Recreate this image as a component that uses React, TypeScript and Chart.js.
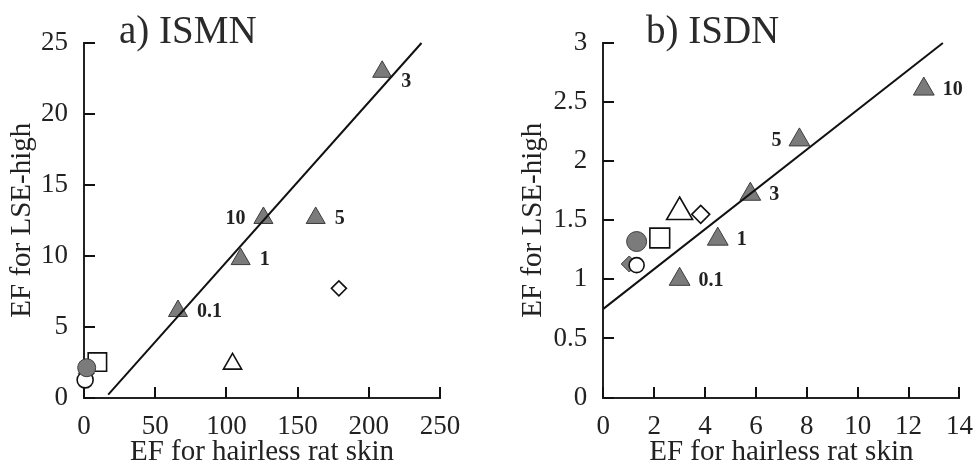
import React, { useEffect, useRef } from 'react';
import { Chart, registerables } from 'chart.js';

Chart.register(...registerables);

// ---------- data ----------
const concentrationLabels = ['0.1', '1', '3', '5', '10'];

// panel a) ISMN
const ismnTriangleX = [66, 110, 209.4, 162.7, 126];
const ismnTriangleY = [6.1, 9.76, 22.97, 12.66, 12.66];
const ismnLabelSide = ['right', 'right', 'lowerRight', 'right', 'left'];
// symbols: filledCircle, openCircle, filledDiamond, openSquare, openTriangle, openDiamond
const ismnSymbolX = [1.9, 0.8, 1.6, 9.4, 104.3, 179];
const ismnSymbolY = [2.1, 1.24, 1.7, 2.5, 2.37, 7.7];
const ismnFitX = [17, 237];
const ismnFitY = [0.2, 25];
const ismnXTicks = [0, 50, 100, 150, 200, 250];
const ismnYTicks = [0, 5, 10, 15, 20, 25];

// panel b) ISDN
const isdnTriangleX = [3.0, 4.5, 5.78, 7.71, 12.6];
const isdnTriangleY = [1.0, 1.34, 1.72, 2.18, 2.61];
const isdnLabelSide = ['right', 'right', 'right', 'left', 'right'];
const isdnSymbolX = [1.31, 1.31, 1.02, 2.22, 3.0, 3.83];
const isdnSymbolY = [1.32, 1.12, 1.13, 1.35, 1.57, 1.55];
const isdnFitX = [0, 13.35];
const isdnFitY = [0.75, 3.0];
const isdnXTicks = [0, 2, 4, 6, 8, 10, 12, 14];
const isdnYTicks = [0, 0.5, 1, 1.5, 2, 2.5, 3];

const xTitle = 'EF for hairless rat skin';
const yTitle = 'EF for LSE-high';

// ---------- style ----------
const FONT = '"Liberation Serif", "Times New Roman", serif';
const INK = '#222';
const GRAY = '#7b7b7b';

const zip = (xs: number[], ys: number[]) => xs.map((x, i) => ({ x, y: ys[i] }));

function drawInwardTicks(chart: any) {
  const ctx = chart.ctx;
  const area = chart.chartArea;
  const xs = chart.scales.x;
  const ys = chart.scales.y;
  ctx.save();
  ctx.fillStyle = '#111';
  for (const t of xs.ticks) {
    const px = xs.getPixelForValue(Number(t.value));
    ctx.fillRect(Math.round(px) - 1, Math.round(area.bottom) - 11, 2, 11);
  }
  for (const t of ys.ticks) {
    const py = ys.getPixelForValue(Number(t.value));
    ctx.fillRect(Math.round(area.left), Math.round(py) - 1, 11, 2);
  }
  ctx.restore();
}

const tickPlugin = {
  id: 'inwardTicks',
  afterDraw(chart: any) {
    drawInwardTicks(chart);
  },
};

const annotatePlugin = {
  id: 'annotate',
  afterDraw(chart: any, _args: any, opts: any) {
    const ctx = chart.ctx;
    const area = chart.chartArea;
    ctx.save();
    // concentration labels
    const meta = chart.getDatasetMeta(opts.datasetIndex);
    ctx.fillStyle = INK;
    ctx.font = `bold 20px ${FONT}`;
    ctx.textBaseline = 'middle';
    meta.data.forEach((el: any, i: number) => {
      const side = opts.sides[i];
      let x = el.x;
      let y = el.y + 1;
      if (side === 'left') {
        ctx.textAlign = 'right';
        x -= 18;
      } else {
        ctx.textAlign = 'left';
        x += 19;
        if (side === 'lowerRight') y += 9;
      }
      ctx.fillText(opts.labels[i], x, y);
    });

    // panel title
    ctx.font = `39px ${FONT}`;
    ctx.textAlign = 'left';
    ctx.textBaseline = 'alphabetic';
    ctx.fillStyle = '#2a2a2a';
    ctx.fillText(opts.title, area.left + opts.titleDx, 43);
    ctx.restore();
  },
};

type PanelProps = {
  width: number;
  left: number;
  areaLeft: number;
  areaRight: number;
  yTitlePad: number;
  title: string;
  titleDx: number;
  triX: number[];
  triY: number[];
  sides: string[];
  symX: number[];
  symY: number[];
  fitX: number[];
  fitY: number[];
  xTicks: number[];
  yTicks: number[];
  sizes: number[];
};

function Panel(p: PanelProps) {
  const ref = useRef<HTMLCanvasElement | null>(null);
  useEffect(() => {
    if (!ref.current) return;
    const [rCirc, rOpenCirc, rDiam, rSq, rOpenTri, rOpenDiam, rTri] = p.sizes;
    const filled = { backgroundColor: GRAY, borderColor: '#3c3c3c', borderWidth: 1, clip: false };
    const open = { backgroundColor: '#fff', borderColor: '#111', borderWidth: 1.6, clip: false };
    const sym = (i: number) => [{ x: p.symX[i], y: p.symY[i] }];
    const datasets: any[] = [
      {
        label: 'fit',
        data: zip(p.fitX, p.fitY),
        showLine: true,
        borderColor: '#111',
        borderWidth: 2,
        pointRadius: 0,
        clip: false,
      },
      { label: 'filledCircle', data: sym(0), pointStyle: 'circle', pointRadius: rCirc, ...filled },
      { label: 'openCircle', data: sym(1), pointStyle: 'circle', pointRadius: rOpenCirc, ...open },
      { label: 'filledDiamond', data: sym(2), pointStyle: 'rectRot', pointRadius: rDiam, ...filled },
      { label: 'openSquare', data: sym(3), pointStyle: 'rect', pointRadius: rSq, ...open },
      { label: 'openTriangle', data: sym(4), pointStyle: 'triangle', pointRadius: rOpenTri, ...open },
      { label: 'openDiamond', data: sym(5), pointStyle: 'rectRot', pointRadius: rOpenDiam, ...open },
      {
        label: 'conc',
        data: zip(p.triX, p.triY),
        pointStyle: 'triangle',
        pointRadius: rTri,
        ...filled,
      },
    ];
    const tickFont = { family: FONT, size: 27 };
    const titleFont = { family: FONT, size: 29 };
    const xs = p.xTicks;
    const ys = p.yTicks;
    const chart = new Chart(ref.current, {
      type: 'scatter',
      data: { datasets },
      plugins: [tickPlugin, annotatePlugin],
      options: {
        animation: false,
        responsive: false,
        events: [],
        layout: { padding: { top: 43, right: p.width - p.areaRight, left: 0, bottom: 0 } },
        plugins: {
          legend: { display: false },
          tooltip: { enabled: false },
          annotate: {
            datasetIndex: 7,
            labels: concentrationLabels,
            sides: p.sides,
            title: p.title,
            titleDx: p.titleDx,
          },
        } as any,
        scales: {
          x: {
            type: 'linear',
            min: xs[0],
            max: xs[xs.length - 1],
            afterBuildTicks: (s: any) => {
              s.ticks = xs.map((v) => ({ value: v }));
            },
            ticks: {
              font: tickFont,
              color: INK,
              padding: 13,
              maxRotation: 0,
              autoSkip: false,
              callback: (v: any) => String(v),
            },
            grid: { display: false, drawOnChartArea: false, drawTicks: false, tickLength: 0 },
            border: { display: true, color: INK, width: 2 },
            title: { display: true, text: xTitle, font: titleFont, color: INK, padding: { top: 0, bottom: 0 } },
            afterFit: (s: any) => {
              s.height = 470 - 397.5;
              s.paddingLeft = 0;
              s.paddingRight = 0;
            },
          },
          y: {
            type: 'linear',
            min: ys[0],
            max: ys[ys.length - 1],
            afterBuildTicks: (s: any) => {
              s.ticks = ys.map((v) => ({ value: v }));
            },
            ticks: {
              font: tickFont,
              color: INK,
              padding: 16,
              autoSkip: false,
              callback: (v: any) => String(v),
            },
            grid: { display: false, drawOnChartArea: false, drawTicks: false, tickLength: 0 },
            border: { display: true, color: INK, width: 2 },
            title: { display: true, text: yTitle, font: titleFont, color: INK, padding: { top: p.yTitlePad, bottom: 0 } },
            afterFit: (s: any) => {
              s.width = p.areaLeft;
              s.paddingTop = 0;
              s.paddingBottom = 0;
            },
          },
        },
      } as any,
    });
    return () => chart.destroy();
  }, []);
  return (
    <canvas
      ref={ref}
      width={p.width}
      height={470}
      style={{ position: 'absolute', left: p.left, top: 0, width: p.width, height: 470 }}
    />
  );
}

export default function App() {
  return (
    <div style={{ position: 'fixed', left: 0, top: 0, width: 976, height: 470, background: '#fff', overflow: 'hidden' }}>
      <Panel
        width={490}
        left={0}
        areaLeft={84}
        areaRight={440}
        yTitlePad={4.5}
        title="a) ISMN"
        titleDx={35}
        triX={ismnTriangleX}
        triY={ismnTriangleY}
        sides={ismnLabelSide}
        symX={ismnSymbolX}
        symY={ismnSymbolY}
        fitX={ismnFitX}
        fitY={ismnFitY}
        xTicks={ismnXTicks}
        yTicks={ismnYTicks}
        sizes={[9, 8, 8, 13, 10.5, 7.5, 11]}
      />
      <Panel
        width={486}
        left={490}
        areaLeft={113.3}
        areaRight={470}
        yTitlePad={26}
        title="b) ISDN"
        titleDx={42.7}
        triX={isdnTriangleX}
        triY={isdnTriangleY}
        sides={isdnLabelSide}
        symX={isdnSymbolX}
        symY={isdnSymbolY}
        fitX={isdnFitX}
        fitY={isdnFitY}
        xTicks={isdnXTicks}
        yTicks={isdnYTicks}
        sizes={[10, 7.5, 8, 14, 15, 9, 12]}
      />
    </div>
  );
}
